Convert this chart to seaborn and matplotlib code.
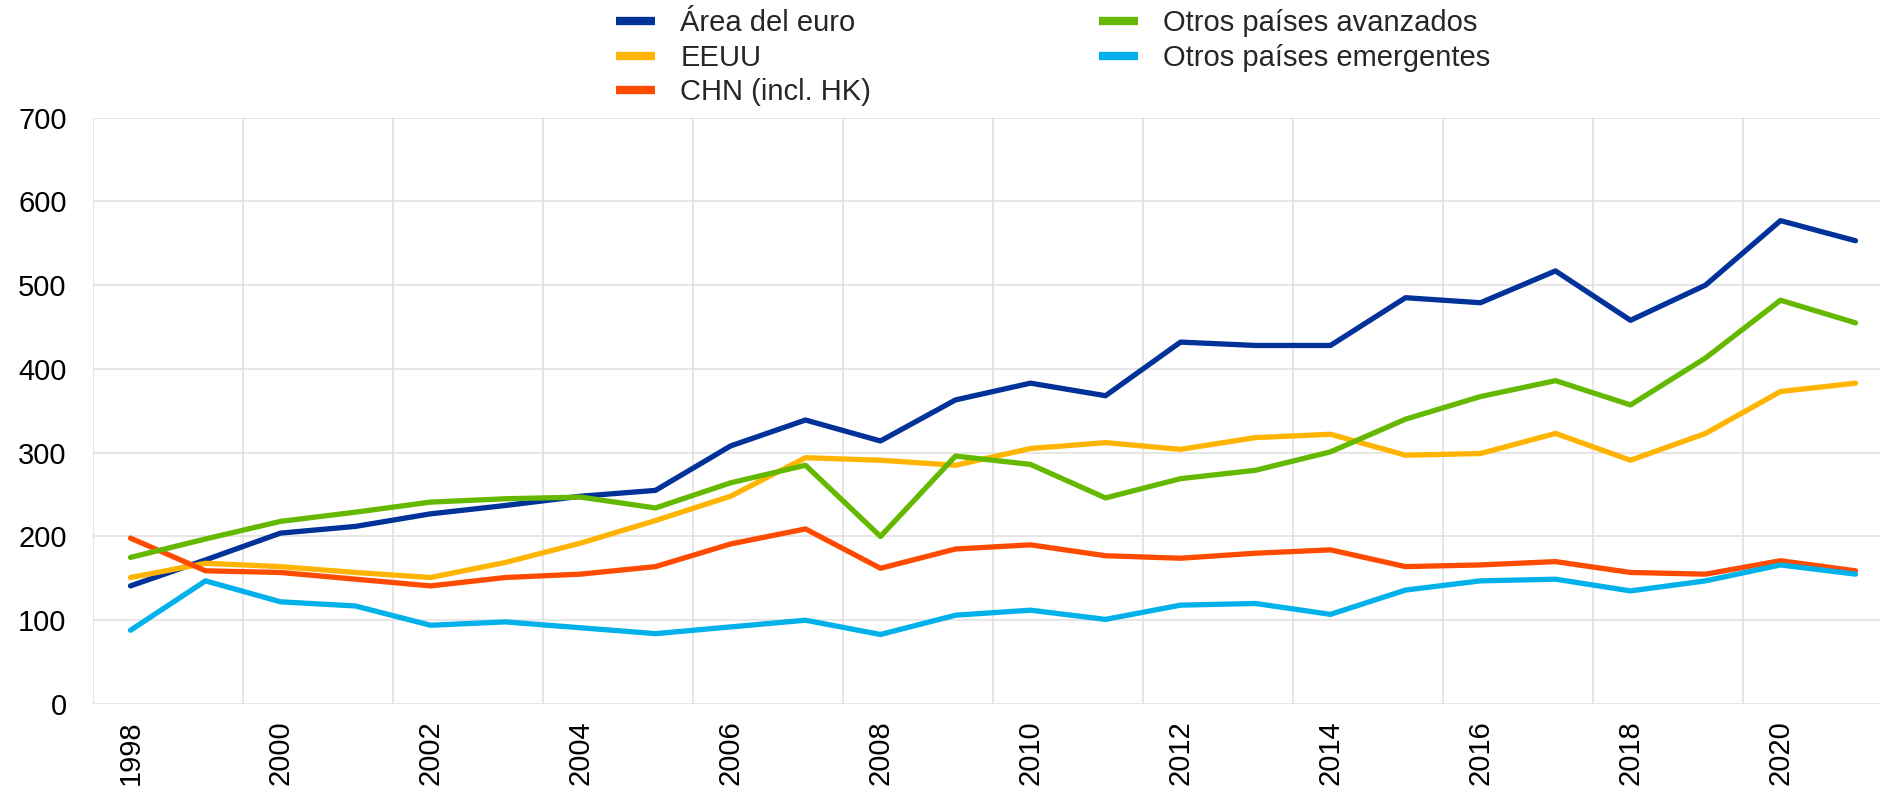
# %% trade lines by region

import matplotlib.pyplot as plt
import matplotlib.ticker as mticker
import pandas as pd
import seaborn as sns

years = list(range(1998, 2022))

area_euro = [141, 172, 204, 212, 227, 237, 248, 255, 308, 339, 314, 363,
             383, 368, 432, 428, 428, 485, 479, 517, 458, 500, 577, 553]
eeuu = [151, 168, 164, 157, 151, 169, 192, 219, 248, 294, 291, 285,
        305, 312, 304, 318, 322, 297, 299, 323, 291, 323, 373, 383]
chn = [198, 159, 157, 149, 141, 151, 155, 164, 191, 209, 162, 185,
       190, 177, 174, 180, 184, 164, 166, 170, 157, 155, 171, 159]
otros_avanzados = [175, 197, 218, 229, 241, 245, 247, 234, 264, 285, 200, 296,
                   286, 246, 269, 279, 301, 340, 367, 386, 357, 413, 482, 455]
otros_emergentes = [88, 147, 122, 117, 94, 98, 91, 84, 92, 100, 83, 106,
                    112, 101, 118, 120, 107, 136, 147, 149, 135, 147, 166, 155]

series = {
    "Área del euro": area_euro,
    "EEUU": eeuu,
    "CHN (incl. HK)": chn,
    "Otros países avanzados": otros_avanzados,
    "Otros países emergentes": otros_emergentes,
}
colors = ["#003299", "#FFB400", "#FF4B00", "#65B800", "#00B1EA"]

df = pd.DataFrame(
    [(y, name, v) for name, vals in series.items() for y, v in zip(years, vals)],
    columns=["year", "serie", "value"],
)

sns.set_theme(style="white")
plt.rcParams["font.family"] = ["Liberation Sans", "DejaVu Sans"]

fig = plt.figure(figsize=(18.81, 7.90), dpi=100)
ax = fig.add_axes([93 / 1881, 1 - 704 / 790, 1 - 93 / 1881, (704 - 117.6) / 790])

sns.lineplot(data=df, x="year", y="value", hue="serie", palette=colors,
             linewidth=3.8, ax=ax, legend=True)
for line in ax.get_lines():
    line.set_solid_capstyle("round")
    line.set_solid_joinstyle("round")

ax.set_xlim(1997.5, 2021.34)
ax.set_ylim(0, 700)
ax.xaxis.set_major_locator(mticker.FixedLocator(range(1998, 2022, 2)))
ax.xaxis.set_minor_locator(mticker.FixedLocator([y + 0.5 for y in range(1997, 2022, 2)]))
ax.yaxis.set_major_locator(mticker.MultipleLocator(100))
ax.grid(False)
ax.grid(True, which="minor", axis="x", color="#e1e1e1", linewidth=1.2)
ax.grid(True, which="major", axis="y", color="#e1e1e1", linewidth=1.2)
ax.set_axisbelow(True)
for s in ax.spines.values():
    s.set_visible(False)
ax.tick_params(axis="both", which="both", length=0, labelsize=21, colors="black")
ax.tick_params(axis="x", pad=12, labelrotation=90)
ax.tick_params(axis="y", pad=19)
ax.set_xlabel("")
ax.set_ylabel("")

handles, labels = ax.get_legend_handles_labels()
ax.get_legend().remove()
leg = fig.legend(handles, labels, loc="upper left", bbox_to_anchor=(616 / 1881, 0.988),
                 ncol=2, frameon=False, fontsize=21, handlelength=1.35,
                 handletextpad=0.85, columnspacing=7.8, labelspacing=0.22,
                 borderpad=0, borderaxespad=0)
for h in leg.legend_handles:
    h.set_linewidth(6)
    h.set_solid_capstyle("butt")

fig.savefig("out.png", dpi=100)
